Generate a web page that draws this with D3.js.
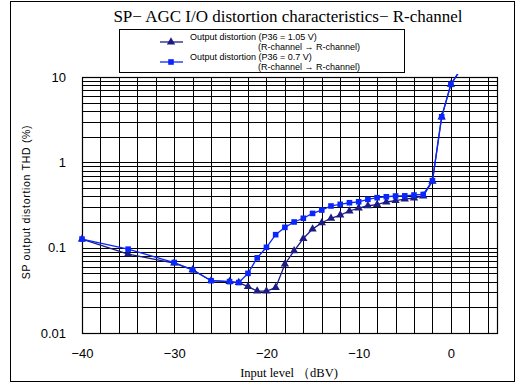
<!DOCTYPE html>
<html><head><meta charset="utf-8">
<script src="https://cdn.jsdelivr.net/npm/d3@7"></script>
<style>body{margin:0;background:#fff}svg{display:block}</style>
</head><body>
<svg id="c" width="517" height="384"></svg>
<script>
const inputLevels = [-40,-35,-30,-28,-26,-24,-23,-22,-21,-20,-19,-18,-17,-16,-15,-14,-13,-12,-11,-10,-9,-8,-7,-6,-5,-4,-3,-2,-1,0,1];
const thdP36_105 = [0.126,0.084,0.066,0.055,0.041,0.040,0.039,0.035,0.031,0.031,0.034,0.064,0.092,0.128,0.165,0.196,0.221,0.241,0.269,0.291,0.310,0.320,0.343,0.355,0.371,0.382,0.403,0.60,3.4,8.2,12];
const thdP36_07  = [0.126,0.096,0.067,0.055,0.041,0.040,0.039,0.050,0.076,0.101,0.142,0.173,0.200,0.221,0.252,0.276,0.308,0.322,0.336,0.345,0.368,0.385,0.395,0.403,0.405,0.414,0.420,0.61,3.42,8.2,12];
const xTicks = [-40,-30,-20,-10,0];
const yTicks = [0.01,0.1,1,10];
const yTickLabels = ["0.01","0.1","1","10"];
const seriesNames = [["Output distortion (P36 = 1.05 V)","(R-channel → R-channel)"],["Output distortion (P36 = 0.7 V)","(R-channel → R-channel)"]];
const colors = ["#1c1c86","#0a26ff"];

const svg = d3.select("#c");
const L=82, R=497, T=77, B=333;
const x = d3.scaleLinear().domain([-40,5]).range([L,R]);
const y = d3.scaleLog().domain([0.01,10]).range([B,T]);

svg.append("rect").attr("x",10.5).attr("y",1.5).attr("width",504).attr("height",380).attr("fill","none").attr("stroke","#000").attr("stroke-width",1);

svg.append("text").attr("x",288).attr("y",22).attr("text-anchor","middle")
  .attr("font-family","Liberation Serif, DejaVu Serif, serif").attr("font-size",17)
  .text("SP− AGC I/O distortion characteristics− R-channel");

const g = svg.append("g");
d3.range(-40,5,2).forEach(v=>{
  g.append("line").attr("x1",Math.round(x(v))+0.5).attr("x2",Math.round(x(v))+0.5).attr("y1",T).attr("y2",B).attr("stroke","#000").attr("stroke-width",1);
});
const yGrid=[];
[0.01,0.1,1].forEach(d=>{for(let k=1;k<10;k++) yGrid.push(d*k);});
yGrid.push(10);
yGrid.forEach(v=>{
  g.append("line").attr("x1",L).attr("x2",R).attr("y1",Math.round(y(v))+0.5).attr("y2",Math.round(y(v))+0.5).attr("stroke","#000").attr("stroke-width",1);
});
g.append("rect").attr("x",L+0.5).attr("y",T+0.5).attr("width",R-L).attr("height",B-T).attr("fill","none").attr("stroke","#000").attr("stroke-width",1.2);

const xAxis = d3.axisBottom(x).tickValues(xTicks).tickSize(0).tickPadding(0).tickFormat(d=>d<0?"−"+Math.abs(d):d);
const xa = svg.append("g").attr("transform",`translate(0,${B+20})`).call(xAxis);
xa.select(".domain").remove();
xa.selectAll("text").attr("font-family","Liberation Sans, Arial, sans-serif").attr("font-size",13).attr("fill","#000").attr("dy","0.35em").attr("y",0);

const yAxis = d3.axisLeft(y).tickValues(yTicks).tickSize(0).tickPadding(0).tickFormat((d,i)=>yTickLabels[i]);
const ya = svg.append("g").attr("transform",`translate(${L-16},0)`).call(yAxis);
ya.select(".domain").remove();
ya.selectAll("text").attr("font-family","Liberation Sans, Arial, sans-serif").attr("font-size",13).attr("fill","#000");

svg.append("text").attr("x",289).attr("y",377).attr("text-anchor","middle")
  .attr("font-family","Liberation Serif, DejaVu Serif, serif").attr("font-size",12.5)
  .text("Input level （dBV)");
svg.append("text").attr("transform","translate(30,202) rotate(-90)").attr("text-anchor","middle")
  .attr("font-family","Liberation Sans, Arial, sans-serif").attr("font-size",10.5).attr("letter-spacing",0.7)
  .text("SP output distortion  THD (%)");

const defs = svg.append("defs");
defs.append("clipPath").attr("id","clipL").append("rect").attr("x",L-5).attr("y",T-3).attr("width",R-L+10).attr("height",B-T+3);
defs.append("clipPath").attr("id","clipM").append("rect").attr("x",L-5).attr("y",T-1).attr("width",R-L+10).attr("height",B-T+1);

const line = d3.line().x((d,i)=>x(inputLevels[i])).y(d=>y(d));
const series=[thdP36_105,thdP36_07];
const tri = d3.symbol().type(d3.symbolTriangle).size(30);

series.forEach((s,si)=>{
  svg.append("path").attr("d",line(s)).attr("fill","none").attr("stroke",colors[si]).attr("stroke-width",1.3).attr("clip-path","url(#clipL)");
});
const mg0 = svg.append("g").attr("clip-path","url(#clipM)");
thdP36_105.forEach((v,i)=>{
  mg0.append("path").attr("d",tri()).attr("transform",`translate(${x(inputLevels[i])},${y(v)})`).attr("fill",colors[0]);
});
const mg1 = svg.append("g").attr("clip-path","url(#clipM)");
thdP36_07.forEach((v,i)=>{
  mg1.append("rect").attr("x",x(inputLevels[i])-2.8).attr("y",y(v)-2.8).attr("width",5.6).attr("height",5.6).attr("fill",colors[1]);
});

const lg = svg.append("g");
lg.append("rect").attr("x",119.5).attr("y",29.5).attr("width",285).attr("height",43).attr("fill","#fff").attr("stroke","#000").attr("stroke-width",1);
[42,62].forEach((ly,si)=>{
  lg.append("line").attr("x1",160).attr("x2",183).attr("y1",ly).attr("y2",ly).attr("stroke",colors[si]).attr("stroke-width",1.3);
  if(si===0) lg.append("path").attr("d",tri()).attr("transform",`translate(171,${ly})`).attr("fill",colors[0]);
  else lg.append("rect").attr("x",168.2).attr("y",ly-2.8).attr("width",5.6).attr("height",5.6).attr("fill",colors[1]);
  lg.append("text").attr("x",190).attr("y",ly-2).attr("font-family","Liberation Sans, Arial, sans-serif").attr("font-size",9).text(seriesNames[si][0]);
  lg.append("text").attr("x",258).attr("y",ly+8).attr("font-family","Liberation Sans, Arial, sans-serif").attr("font-size",9).text(seriesNames[si][1]);
});
</script>
</body></html>
